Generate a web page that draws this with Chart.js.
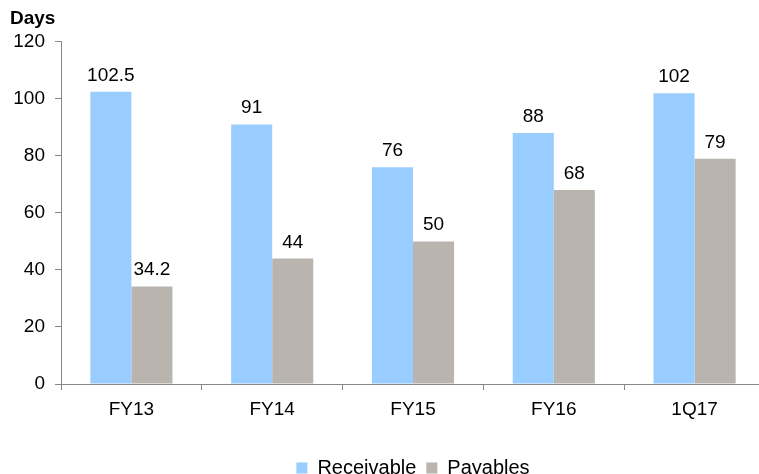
<!DOCTYPE html>
<html>
<head>
<meta charset="utf-8">
<script src="https://cdn.jsdelivr.net/npm/chart.js@4/dist/chart.umd.min.js"></script>
<style>
  html, body { margin: 0; padding: 0; background: #fff; overflow: hidden; }
  #wrap { position: relative; width: 765px; height: 488px; }
</style>
</head>
<body>
<div id="wrap"><canvas id="chart"></canvas></div>
<script>
/* ── Data ───────────────────────────────────────────────────────────────── */

const CATEGORIES  = ['FY13', 'FY14', 'FY15', 'FY16', '1Q17'];
const RECEIVABLE  = [102.5, 91, 76, 88, 102];
const PAYABLES    = [34.2, 44, 50, 68, 79];
const Y_TICKS     = [0, 20, 40, 60, 80, 100, 120];

/* ── Constants ──────────────────────────────────────────────────────────── */

const COLORS = {
    receivable: '#99ccff',
    payables:   '#b9b4ad',
    axis:       '#888888',
    text:       '#000000',
};
const FONT = "'Liberation Sans', Arial, sans-serif";

Chart.defaults.font.family = FONT;
Chart.defaults.color = COLORS.text;

// Values printed above each bar
const barLabels = {
    id: 'barLabels',
    afterDatasetsDraw(chart) {
        const { ctx } = chart;
        ctx.save();
        ctx.font = `19px ${FONT}`;
        ctx.fillStyle = COLORS.text;
        ctx.textAlign = 'center';
        ctx.textBaseline = 'alphabetic';
        chart.data.datasets.forEach((ds, i) => {
            chart.getDatasetMeta(i).data.forEach((bar, j) => {
                ctx.fillText(String(ds.data[j]), bar.x, bar.y - 11);
            });
        });
        ctx.restore();
    },
};

new Chart(document.getElementById('chart'), {
    type: 'bar',
    data: {
        labels: CATEGORIES,
        datasets: [
            { label: 'Receivable', data: RECEIVABLE, backgroundColor: COLORS.receivable },
            { label: 'Payables',   data: PAYABLES,   backgroundColor: COLORS.payables },
        ],
    },
    options: {
        responsive: true,
        maintainAspectRatio: false,
        animation: false,
        layout: { padding: { left: 10, right: 0, top: 0, bottom: 0 } },
        datasets: { bar: { categoryPercentage: 0.583, barPercentage: 1.0 } },
        scales: {
            x: {
                grid: {
                    drawOnChartArea: false,
                    drawTicks: true,
                    tickLength: 6,
                    color: COLORS.axis,
                },
                border: { color: COLORS.axis, width: 1 },
                ticks: { font: { size: 19 }, padding: 8, color: COLORS.text },
                afterFit(scale) { scale.height = 64; },
            },
            y: {
                min: 0,
                max: 120,
                afterBuildTicks(scale) { scale.ticks = Y_TICKS.map(v => ({ value: v })); },
                grid: {
                    drawOnChartArea: false,
                    drawTicks: true,
                    tickLength: 6,
                    color: COLORS.axis,
                },
                border: { color: COLORS.axis, width: 1 },
                ticks: { font: { size: 19 }, padding: 10, color: COLORS.text },
                afterFit(scale) { scale.width = 51; },
            },
        },
        plugins: {
            title: {
                display: true,
                text: 'Days',
                align: 'start',
                color: COLORS.text,
                font: { size: 19, weight: 'bold' },
                padding: { top: 7, bottom: 12 },
            },
            legend: {
                position: 'bottom',
                fullSize: false,
                labels: {
                    font: { size: 20 },
                    color: COLORS.text,
                    boxWidth: 11,
                    boxHeight: 11,
                    padding: 10,
                },
            },
            tooltip: { enabled: false },
        },
    },
    plugins: [barLabels],
});
</script>
</body>
</html>
